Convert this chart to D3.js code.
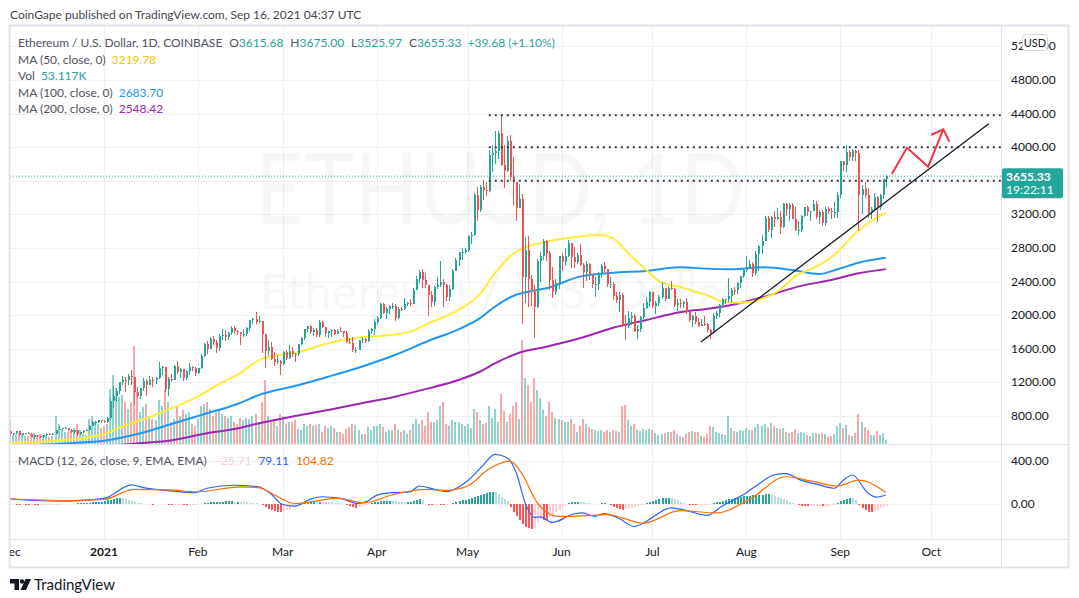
<!DOCTYPE html>
<html>
<head>
<meta charset="utf-8">
<script src="https://cdn.jsdelivr.net/npm/d3@7"></script>
<style>
  body { margin: 0; background: #fff; }
  svg { display: block; font-family: Lato, "Noto Sans", sans-serif; }
</style>
</head>
<body>
<script>
// ETH/USD daily, Coinbase, 1 Dec 2020 .. 16 Sep 2021
const firstDay = "2020-12-01";
const firstOpen = 616;

const closes = [
  587,598,616,570,596,601,591,554,573,560,545,568,590,586,589,636,642,654,658,638,608,634,583,611,626,635,684,731,731,751,737,
  730,774,975,1040,1100,1208,1225,1224,1281,1262,1090,1043,1130,1218,1171,1233,1230,1257,1377,1382,1121,1235,1233,1392,1324,1357,1253,1331,1381,1377,1314,
  1370,1511,1660,1594,1719,1677,1613,1751,1769,1743,1783,1843,1813,1800,1779,1781,1849,1938,1960,1920,1935,1777,1571,1626,1475,1446,1459,1417,
  1565,1489,1575,1541,1534,1652,1724,1835,1868,1796,1826,1769,1924,1855,1792,1806,1824,1781,1814,1812,1785,1680,1670,1582,1588,1700,1713,1687,1816,1840,1919,
  1970,2135,2024,2077,2107,2112,1964,2079,2070,2135,2151,2138,2299,2432,2514,2422,2356,2236,2163,2330,2358,2401,2363,2215,2316,2532,2661,2747,2757,2773,
  2945,2950,3431,3253,3522,3490,3484,3902,3928,3952,4168,3785,3715,4079,3640,3587,3282,3378,2460,2772,2430,2296,2100,2643,2706,2888,2736,2419,2279,2386,2707,
  2634,2706,2855,2690,2630,2711,2593,2516,2609,2475,2372,2372,2508,2587,2551,2369,2373,2234,2177,2245,1888,1874,1967,1991,1814,1830,1979,2083,2162,2275,
  2110,2151,2221,2324,2197,2323,2315,2116,2147,2137,2154,2033,1939,1994,1915,1875,1898,1893,1820,1786,1995,2026,2124,2188,2190,2232,2301,2298,2380,2461,2536,
  2557,2608,2507,2725,2827,2889,3157,3011,3164,3142,3164,3045,3322,3266,3310,3148,3013,3018,3181,3286,3226,3243,3324,3173,3228,3096,3268,3245,3225,3225,3433,
  3834,3790,3940,3887,3953,3927,3426,3497,3427,3213,3268,3408,3285,3429,3615.68,3655.33
];
const highs = [
  636,599,620,619,598,603,605,594,575,575,561,572,597,593,595,637,677,659,668,661,647,637,638,613,629,645,698,745,738,755,753,
  749,787,1011,1155,1135,1210,1281,1265,1300,1348,1265,1148,1134,1250,1240,1280,1262,1260,1440,1400,1383,1270,1300,1412,1460,1370,1360,1350,1430,1390,1384,
  1375,1540,1665,1692,1738,1755,1700,1780,1830,1826,1800,1870,1872,1825,1805,1830,1865,1940,1970,2040,1990,1935,1781,1705,1680,1560,1522,1466,
  1571,1582,1651,1623,1548,1660,1737,1839,1875,1880,1842,1844,1945,1930,1865,1810,1830,1840,1830,1860,1815,1810,1725,1740,1624,1705,1735,1725,1835,1850,1950,
  1990,2145,2150,2096,2118,2146,2130,2095,2100,2200,2160,2190,2320,2470,2544,2548,2500,2364,2285,2345,2450,2640,2430,2370,2360,2550,2680,2750,2800,2800,
  2950,2987,3455,3530,3545,3605,3590,3970,4030,4195,4190,4380,4030,4130,4150,3880,3590,3560,3440,2930,2940,2480,2365,2670,2750,2910,2890,2765,2570,2430,2710,
  2740,2800,2890,2860,2815,2745,2845,2620,2640,2620,2485,2450,2520,2605,2630,2555,2460,2390,2275,2275,2260,2005,2045,2040,2010,1880,1985,2150,2220,2285,
  2275,2165,2238,2400,2323,2350,2410,2318,2195,2190,2165,2200,2045,2005,2040,1965,1955,1990,1905,1830,2025,2045,2130,2210,2192,2445,2320,2340,2400,2470,2545,
  2700,2660,2630,2760,2840,2950,3180,3185,3180,3235,3275,3245,3330,3330,3335,3335,3290,3120,3190,3290,3300,3245,3375,3355,3250,3250,3285,3290,3275,3350,3470,
  3840,3835,4027,3970,3980,3970,3965,3545,3580,3520,3290,3450,3420,3440,3618,3675
];
const lows = [
  557,568,590,563,561,585,584,550,530,553,533,541,566,575,580,583,628,626,646,625,597,588,567,571,597,620,628,682,693,716,716,
  716,715,768,893,982,1064,1169,1082,1167,1170,930,1015,1008,1100,1033,1166,1150,1185,1246,1287,1080,1043,1205,1230,1300,1250,1220,1230,1290,1330,1280,
  1302,1364,1498,1533,1593,1649,1545,1570,1700,1690,1705,1765,1775,1765,1651,1736,1752,1810,1895,1890,1910,1550,1370,1515,1465,1400,1418,1293,
  1410,1462,1483,1500,1440,1510,1640,1700,1800,1780,1755,1740,1735,1850,1745,1730,1735,1770,1778,1800,1735,1670,1656,1560,1546,1582,1675,1670,1680,1776,1770,
  1900,1960,2010,1955,2010,2070,1933,1958,2055,2058,2110,2115,2136,2310,2385,2320,2325,1990,2100,2115,2314,2330,2100,2175,2165,2300,2530,2580,2660,2730,
  2755,2850,2945,3120,3225,3370,3422,3465,3700,3795,3860,3780,3520,3700,3600,3300,3120,3300,1900,2150,2100,2110,1730,2080,2400,2660,2650,2300,2210,2235,2312,
  2530,2580,2690,2560,2560,2610,2580,2325,2410,2420,2325,2220,2300,2445,2510,2330,2320,2185,2145,2040,1860,1700,1850,1880,1800,1720,1805,1960,2070,2100,
  2085,2015,2110,2190,2165,2190,2300,2095,2050,2085,2085,2010,1920,1860,1890,1860,1866,1870,1800,1718,1780,1950,1980,2100,2130,2162,2150,2235,2255,2320,2440,
  2515,2550,2450,2480,2525,2730,2880,2990,2925,3055,3130,2970,3035,3180,3120,3140,3000,2950,2995,3165,3180,3120,3235,3140,3080,3060,3060,3210,3150,3160,3155,
  3390,3720,3710,3830,3840,3840,3000,3200,3400,3160,3150,3245,3110,3250,3380,3525.97
];
// volume, thousand ETH
const volumes = [
  336,126,140,154,140,112,112,140,154,126,140,126,112,98,112,392,280,196,168,168,196,224,280,196,140,126,350,392,308,280,224,
  252,280,770,966,784,658,686,588,490,588,1372,728,448,518,560,392,350,336,616,532,770,588,308,350,532,392,476,420,448,280,252,
  350,532,560,588,490,392,448,490,420,392,364,392,308,280,364,336,364,350,392,420,308,588,896,392,308,350,252,420,
  392,280,308,308,336,210,196,280,252,280,252,266,280,168,252,224,252,224,168,168,140,210,238,280,266,196,140,140,238,196,252,
  252,280,238,168,196,196,280,196,168,196,140,196,280,350,280,336,252,448,308,308,336,532,588,280,252,336,308,308,280,252,
  280,224,490,448,336,280,294,532,364,490,308,700,462,308,420,532,588,350,1456,924,826,588,924,756,644,476,392,588,448,364,350,
  336,308,308,350,280,168,252,350,280,238,210,196,182,196,168,196,168,196,182,168,532,546,336,252,280,196,182,210,196,210,
  196,154,126,140,154,168,168,196,140,112,98,140,168,182,168,168,112,98,140,252,238,168,154,140,126,392,224,182,168,196,182,
  224,196,196,238,280,252,280,238,294,252,224,210,224,168,154,168,210,154,168,154,126,112,154,154,140,154,140,98,112,140,252,
  294,224,266,126,112,154,420,308,238,196,126,126,182,126,154,53.117
];
// MACD histogram, one bar per day
const macdHist = [
  -6,-8,-10,-12,-12,-13,-14,-14,-15,-16,-15,-14,-13,-12,-11,-10,-8,-6,-5,-4,-3,-2,2,4,5,6,8,10,12,14,16,
  20,28,36,44,50,52,50,44,36,26,16,8,2,-2,-6,-8,-10,-8,-6,-4,-8,-10,-12,-12,-10,-10,-12,-14,-14,-12,-10,
  -8,-2,4,8,12,14,16,18,18,20,20,20,18,18,16,12,10,8,6,4,-6,-18,-34,-48,-60,-70,-78,-82,
  -74,-62,-48,-34,-20,-6,4,12,18,20,20,18,18,16,14,12,10,8,6,4,-2,-12,-24,-34,-40,-32,-24,-14,-4,4,10,
  14,20,24,26,26,24,20,18,16,14,14,18,26,34,40,32,-4,-10,-14,-12,-8,-10,-14,-10,-4,4,12,20,28,34,
  40,48,58,68,78,88,96,104,108,104,90,60,38,22,-30,-80,-120,-150,-190,-215,-228,-236,-232,-170,-140,-150,-158,-130,-105,-80,-58,
  -30,-12,4,10,14,14,12,10,6,2,-4,-8,-6,2,4,-6,-18,-32,-46,-54,-56,-52,-46,-40,-34,-26,-18,-10,4,14,
  24,34,42,48,52,52,48,40,30,18,6,-4,-10,-14,-16,-16,-14,-12,-10,-6,2,10,18,26,32,38,44,50,56,62,66,
  70,74,76,78,80,82,84,85,82,74,64,52,40,28,16,6,-6,-14,-20,-24,-26,-26,-24,-22,-22,-24,-22,-20,-16,-10,4,
  20,34,44,50,48,30,-10,-40,-62,-76,-80,-72,-58,-44,-32,-25.71
];

// indicator lines
const ma50 = [
  ["2020-12-01",480],["2020-12-11",494],["2020-12-22",523],["2021-01-01",586],["2021-01-08",690],["2021-01-15",772],
  ["2021-01-24",905],["2021-02-01",1030],["2021-02-08",1180],["2021-02-14",1290],["2021-02-22",1480],["2021-02-28",1526],
  ["2021-03-05",1553],["2021-03-16",1666],["2021-03-27",1737],["2021-04-02",1752],["2021-04-12",1804],["2021-04-18",1903],
  ["2021-04-28",2062],["2021-05-05",2250],["2021-05-10",2500],["2021-05-16",2730],["2021-05-27",2875],["2021-06-07",2935],
  ["2021-06-13",2955],["2021-06-18",2915],["2021-06-23",2737],["2021-06-29",2538],["2021-07-04",2387],["2021-07-10",2340],
  ["2021-07-15",2280],["2021-07-20",2225],["2021-07-23",2172],["2021-07-30",2149],["2021-08-05",2181],["2021-08-12",2300],
  ["2021-08-17",2459],["2021-08-24",2578],["2021-08-30",2717],["2021-09-06",2975],["2021-09-11",3115],["2021-09-16",3219.78]
];
const ma100 = [
  ["2020-12-01",440],["2020-12-22",479],["2021-01-01",506],["2021-01-13",594],["2021-01-24",713],["2021-02-04",832],
  ["2021-02-14",943],["2021-02-22",1062],["2021-03-05",1157],["2021-03-16",1268],["2021-03-27",1387],["2021-04-07",1526],
  ["2021-04-18",1693],["2021-04-28",1832],["2021-05-05",1963],["2021-05-10",2101],["2021-05-16",2229],["2021-05-21",2280],
  ["2021-05-27",2320],["2021-06-07",2459],["2021-06-18",2506],["2021-06-29",2526],["2021-07-10",2570],["2021-07-20",2552],
  ["2021-07-27",2546],["2021-08-07",2570],["2021-08-16",2538],["2021-08-25",2490],["2021-08-31",2546],["2021-09-07",2625],
  ["2021-09-16",2683.70]
];
const ma200 = [
  ["2021-01-01",440],["2021-01-11",470],["2021-01-24",514],["2021-02-04",594],["2021-02-14",650],["2021-02-22",720],
  ["2021-03-05",800],["2021-03-16",871],["2021-03-27",951],["2021-04-07",1030],["2021-04-18",1129],["2021-04-28",1229],
  ["2021-05-05",1327],["2021-05-10",1427],["2021-05-18",1553],["2021-05-27",1625],["2021-06-07",1725],["2021-06-18",1851],
  ["2021-06-29",1943],["2021-07-10",2034],["2021-07-20",2080],["2021-07-27",2121],["2021-08-07",2220],["2021-08-18",2340],
  ["2021-08-29",2419],["2021-09-07",2499],["2021-09-16",2548.42]
];
const macdLine = [
  ["2020-12-01",44],["2020-12-09",28],["2020-12-20",23],["2021-01-01",47],["2021-01-10",173],["2021-01-14",148],
  ["2021-01-23",117],["2021-01-31",101],["2021-02-04",142],["2021-02-13",170],["2021-02-21",154],["2021-02-25",90],
  ["2021-03-01",-9],["2021-03-05",-25],["2021-03-10",38],["2021-03-14",63],["2021-03-20",47],["2021-03-26",0],
  ["2021-03-29",23],["2021-04-01",76],["2021-04-06",101],["2021-04-12",107],["2021-04-15",163],["2021-04-20",132],
  ["2021-04-24",110],["2021-05-01",211],["2021-05-06",352],["2021-05-10",457],["2021-05-14",425],["2021-05-17",290],
  ["2021-05-20",6],["2021-05-23",-129],["2021-05-25",-125],["2021-05-29",-176],["2021-06-05",-98],["2021-06-08",-88],
  ["2021-06-12",-120],["2021-06-15",-94],["2021-06-20",-140],["2021-06-25",-214],["2021-06-28",-183],["2021-07-01",-129],
  ["2021-07-07",-41],["2021-07-11",-57],["2021-07-19",-110],["2021-07-24",-25],["2021-08-01",101],["2021-08-05",180],
  ["2021-08-10",265],["2021-08-14",278],["2021-08-19",217],["2021-08-25",173],["2021-08-30",142],["2021-09-02",217],
  ["2021-09-05",265],["2021-09-10",101],["2021-09-13",60],["2021-09-16",79.11]
];
const signalLine = [
  ["2020-12-01",44],["2020-12-20",28],["2021-01-01",38],["2021-01-11",132],["2021-01-23",126],["2021-01-31",107],
  ["2021-02-15",154],["2021-02-21",148],["2021-02-27",69],["2021-03-05",0],["2021-03-10",14],["2021-03-19",47],
  ["2021-03-28",6],["2021-04-06",79],["2021-04-17",132],["2021-04-24",123],["2021-05-01",163],["2021-05-08",321],
  ["2021-05-15",394],["2021-05-19",274],["2021-05-24",6],["2021-05-31",-120],["2021-06-08",-115],["2021-06-16",-104],
  ["2021-06-28",-183],["2021-07-10",-66],["2021-07-22",-88],["2021-08-02",38],["2021-08-14",249],["2021-08-23",205],
  ["2021-08-31",163],["2021-09-07",217],["2021-09-16",104.82]
];

// legend readouts as shown
const ohlcText = [["O","3615.68"],["H","3675.00"],["L","3525.97"],["C","3655.33"]];
const changeText = "+39.68 (+1.10%)";
const maLegend = [
  ["MA (50, close, 0)", "3219.78", "#f5c800"],
  ["Vol", "53.117K", "#26a69a"],
  ["MA (100, close, 0)", "2683.70", "#2196f3"],
  ["MA (200, close, 0)", "2548.42", "#9c27b0"]
];
const macdLegend = [["\u221225.71", "#ffcdd2"], ["79.11", "#2962ff"], ["104.82", "#ff6d00"]];

// drawings on the chart
const levels = [4380, 4000, 3600];
const levelsFrom = "2021-05-08";
const trendLine = [["2021-07-17",1680],["2021-10-20",4280]];
const arrowPath = [["2021-09-18",3681],["2021-09-23",3994],["2021-09-30",3768],["2021-10-05",4213]];
const arrowHead = [["2021-10-01",4145],["2021-10-05",4213],["2021-10-07",4065]];

const priceTicks = [800,1200,1600,2000,2400,2800,3200,3600,4000,4400,4800,5200];
const priceLabels = [800,1200,1600,2000,2400,2800,3200,4000,4400,4800,5200];
const macdTicks = [0, 400];
const monthTicks = [
  ["2020-12-01","Dec"],["2021-01-01","2021"],["2021-02-01","Feb"],["2021-03-01","Mar"],["2021-04-01","Apr"],
  ["2021-05-01","May"],["2021-06-01","Jun"],["2021-07-01","Jul"],["2021-08-01","Aug"],["2021-09-01","Sep"],["2021-10-01","Oct"]
];

// ---------- layout ----------
const W = 1079, H = 598;
const L = 10, R = 1001, FR = 1068, T = 26, MB = 444, MACDB = 539, FB = 567;
const UP = "#26a69a", DOWN = "#ef5350";
const parse = d3.utcParse("%Y-%m-%d");

const days = d3.utcDay.range(parse(firstDay), d3.utcDay.offset(parse(firstDay), closes.length));
const bars = days.map((d, i) => {
  const o = i ? closes[i-1] : firstOpen, c = closes[i];
  return { d, o, c, h: Math.max(highs[i], o, c), l: Math.min(lows[i], o, c), v: volumes[i], m: macdHist[i] };
});

const x = d3.scaleUtc().domain([parse("2021-01-01"), parse("2021-10-01")]).range([104, 931.2]);
const y = d3.scaleLinear().domain([800, 4800]).range([416, 80]);
const yv = d3.scaleLinear().domain([0, d3.max(volumes)]).range([MB, MB - 104]);
const ym = d3.scaleLinear().domain([0, 400]).range([503.5, 460.5]);

const svg = d3.select("body").append("svg").attr("width", W).attr("height", H);
const defs = svg.append("defs");
defs.append("clipPath").attr("id", "cMain").append("rect").attr("x", L).attr("y", T).attr("width", R - L).attr("height", MB - T);
defs.append("clipPath").attr("id", "cMacd").append("rect").attr("x", L).attr("y", MB).attr("width", R - L).attr("height", MACDB - MB);
defs.append("clipPath").attr("id", "cAxis").append("rect").attr("x", L).attr("y", MACDB).attr("width", R - L).attr("height", FB - MACDB);

// header
svg.append("text").attr("x", 10).attr("y", 19).attr("font-size", 12).attr("fill", "#434651")
  .text("CoinGape published on TradingView.com, Sep 16, 2021 04:37 UTC");

// grid
const grid = svg.append("g").attr("stroke", "#eef0f4").attr("stroke-width", 1);
grid.selectAll(".hg").data(priceTicks).join("line")
  .attr("x1", L).attr("x2", R).attr("y1", d => Math.round(y(d)) + 0.5).attr("y2", d => Math.round(y(d)) + 0.5);
grid.selectAll(".hm").data(macdTicks).join("line")
  .attr("x1", L).attr("x2", R).attr("y1", d => Math.round(ym(d)) + 0.5).attr("y2", d => Math.round(ym(d)) + 0.5);
grid.selectAll(".vg").data(monthTicks.slice(1)).join("line")
  .attr("x1", d => Math.round(x(parse(d[0]))) + 0.5).attr("x2", d => Math.round(x(parse(d[0]))) + 0.5)
  .attr("y1", T).attr("y2", MACDB);

// watermark
const wm = svg.append("g").attr("clip-path", "url(#cMain)").attr("fill", "#131722").attr("fill-opacity", 0.035)
  .attr("text-anchor", "middle");
wm.append("text").attr("x", 500).attr("y", 224).attr("font-size", 98)
  .attr("textLength", 490).attr("lengthAdjust", "spacingAndGlyphs").text("ETHUSD, 1D");
wm.append("text").attr("x", 500).attr("y", 309).attr("font-size", 48)
  .attr("textLength", 480).attr("lengthAdjust", "spacingAndGlyphs").text("Ethereum / U.S. Dollar");

// main pane
const gMain = svg.append("g").attr("clip-path", "url(#cMain)");

gMain.append("g").selectAll("rect").data(bars).join("rect")
  .attr("x", d => Math.round(x(d.d)) - 1).attr("width", 2)
  .attr("y", d => yv(d.v)).attr("height", d => MB - yv(d.v))
  .attr("fill", d => d.c >= d.o ? "#93d2cc" : "#f7a9a8")
  .attr("shape-rendering", "crispEdges");

const line = d3.line().x(d => x(parse(d[0]))).y(d => y(d[1])).curve(d3.curveMonotoneX);
[[ma200, "#9c27b0"], [ma100, "#2196f3"], [ma50, "#ffeb3b"]].forEach(([data, col]) => {
  gMain.append("path").datum(data).attr("d", line).attr("fill", "none")
    .attr("stroke", col).attr("stroke-width", 2);
});

const gC = gMain.append("g").attr("shape-rendering", "crispEdges");
gC.selectAll("line").data(bars).join("line")
  .attr("x1", d => Math.round(x(d.d)) + 0.5).attr("x2", d => Math.round(x(d.d)) + 0.5)
  .attr("y1", d => y(d.h)).attr("y2", d => y(d.l))
  .attr("stroke", d => d.c >= d.o ? UP : DOWN);
gC.selectAll("rect").data(bars).join("rect")
  .attr("x", d => Math.round(x(d.d)) - 0.5).attr("width", 2)
  .attr("y", d => y(Math.max(d.o, d.c)))
  .attr("height", d => Math.max(1, Math.abs(y(d.o) - y(d.c))))
  .attr("fill", d => d.c >= d.o ? UP : DOWN);

// drawings
const last = bars[bars.length - 1];
gMain.append("line").attr("x1", L).attr("x2", R).attr("y1", y(last.c)).attr("y2", y(last.c))
  .attr("stroke", UP).attr("stroke-width", 1).attr("stroke-dasharray", "1 2");
gMain.selectAll(".lvl").data(levels).join("line")
  .attr("x1", x(parse(levelsFrom))).attr("x2", R)
  .attr("y1", d => y(d)).attr("y2", d => y(d))
  .attr("stroke", "#363a45").attr("stroke-width", 2).attr("stroke-dasharray", "2 4");
const pl = d3.line().x(d => x(parse(d[0]))).y(d => y(d[1]));
gMain.append("path").attr("d", pl(trendLine)).attr("stroke", "#131722").attr("stroke-width", 1.3).attr("fill", "none");
gMain.append("path").attr("d", pl(arrowPath)).attr("stroke", "#f23645").attr("stroke-width", 2).attr("fill", "none");
gMain.append("path").attr("d", pl(arrowHead)).attr("stroke", "#f23645").attr("stroke-width", 2).attr("fill", "none");

// MACD pane
const gM = svg.append("g").attr("clip-path", "url(#cMacd)");
gM.append("g").attr("shape-rendering", "crispEdges").selectAll("rect").data(bars).join("rect")
  .attr("x", d => Math.round(x(d.d)) - 0.5).attr("width", 2)
  .attr("y", d => Math.min(ym(d.m), ym(0)))
  .attr("height", d => Math.abs(ym(d.m) - ym(0)))
  .attr("fill", (d, i) => {
    const prev = i ? bars[i-1].m : d.m;
    if (d.m >= 0) return d.m >= prev ? "#26a69a" : "#b2dfdb";
    return d.m >= prev ? "#ffcdd2" : "#ff5252";
  });
const ml = d3.line().x(d => x(parse(d[0]))).y(d => ym(d[1])).curve(d3.curveMonotoneX);
gM.append("path").datum(macdLine).attr("d", ml).attr("fill", "none").attr("stroke", "#2962ff").attr("stroke-width", 1.2);
gM.append("path").datum(signalLine).attr("d", ml).attr("fill", "none").attr("stroke", "#ff6d00").attr("stroke-width", 1.2);

// frame and separators
const fr = svg.append("g").attr("stroke", "#e0e3eb").attr("fill", "none");
fr.append("rect").attr("x", L - 0.5).attr("y", T - 0.5).attr("width", FR - L + 1).attr("height", FB - T + 1).attr("stroke-width", 2);
fr.append("line").attr("x1", R + 0.5).attr("x2", R + 0.5).attr("y1", T).attr("y2", FB);
fr.append("line").attr("x1", L).attr("x2", FR).attr("y1", MB + 0.5).attr("y2", MB + 0.5);
fr.append("line").attr("x1", L).attr("x2", FR).attr("y1", MACDB + 0.5).attr("y2", MACDB + 0.5);

// price axis
const ax = svg.append("g").attr("font-size", 12).attr("fill", "#131722");
ax.selectAll("text.p").data(priceLabels).join("text")
  .attr("x", 1011).attr("y", d => y(d) + 4).text(d => d3.format(".2f")(d));
ax.selectAll("text.m").data(macdTicks).join("text")
  .attr("x", 1011).attr("y", d => ym(d) + 4).text(d => d3.format(".2f")(d));

// current price label
svg.append("rect").attr("x", R + 1).attr("y", y(last.c) - 8).attr("width", 61).attr("height", 30).attr("rx", 2).attr("fill", UP);
svg.append("text").attr("x", 1006).attr("y", y(last.c) + 4.5).attr("font-size", 12).attr("font-weight", 700)
  .attr("fill", "#fff").text(d3.format(".2f")(last.c));
svg.append("text").attr("x", 1006).attr("y", y(last.c) + 18).attr("font-size", 12).attr("fill", "#fff").text("19:22:11");

// USD button
svg.append("rect").attr("x", 1022.5).attr("y", 34.5).attr("width", 25).attr("height", 16).attr("rx", 3)
  .attr("fill", "#fff").attr("stroke", "#d1d4dc");
svg.append("text").attr("x", 1035).attr("y", 46.5).attr("text-anchor", "middle").attr("font-size", 11)
  .attr("fill", "#131722").text("USD");

// time axis
svg.append("g").attr("clip-path", "url(#cAxis)").selectAll("text").data(monthTicks).join("text")
  .attr("x", d => x(parse(d[0]))).attr("y", 556).attr("text-anchor", "middle").attr("font-size", 12)
  .attr("font-weight", d => d[1] === "2021" ? 700 : 400)
  .attr("fill", "#131722").text(d => d[1]);

// legends
const TXT = "#50535e";
const leg = svg.append("g").attr("font-size", 12);
const r1 = leg.append("text").attr("x", 18).attr("y", 46.5).attr("fill", TXT);
r1.append("tspan").text("Ethereum / U.S. Dollar, 1D, COINBASE");
ohlcText.forEach(([k, v]) => {
  r1.append("tspan").attr("dx", 7).text(k);
  r1.append("tspan").attr("fill", UP).text(v);
});
r1.append("tspan").attr("dx", 6).attr("fill", UP).text(changeText);

maLegend.forEach(([lab, val, col], i) => {
  const t = leg.append("text").attr("x", 18).attr("y", 63.5 + i * 16.6).attr("fill", TXT);
  t.append("tspan").text(lab);
  t.append("tspan").attr("dx", 6).attr("fill", col).text(val);
});
const r6 = leg.append("text").attr("x", 18).attr("y", 465).attr("fill", TXT);
r6.append("tspan").text("MACD (12, 26, close, 9, EMA, EMA)");
macdLegend.forEach(([v, col]) => r6.append("tspan").attr("dx", 7).attr("fill", col).text(v));

// TradingView logo
const logo = svg.append("g").attr("fill", "#131722");
logo.append("path").attr("d", "M10 579h9v11h-4.5v-6.5H10z");
logo.append("circle").attr("cx", 22).attr("cy", 581.5).attr("r", 2.2);
logo.append("path").attr("d", "M25.5 579h5.5l-5 11h-5.5z");
logo.append("text").attr("x", 34).attr("y", 590).attr("font-size", 15).attr("fill", "#131722").text("TradingView");
</script>
</body>
</html>
